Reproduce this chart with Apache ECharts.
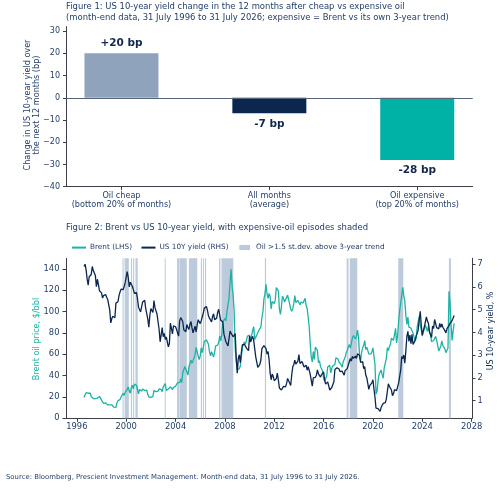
<!DOCTYPE html>
<html><head><meta charset="utf-8">
<script src="https://cdn.jsdelivr.net/npm/echarts@6/dist/echarts.min.js"></script>
<style>html,body{margin:0;padding:0;background:#fff}#c{width:500px;height:489px}</style>
</head><body><div id="c"></div>
<script>
// ---------- Figure 1 data ----------
const FIG1_CATEGORIES = ['Oil cheap\n(bottom 20% of months)', 'All months\n(average)', 'Oil expensive\n(top 20% of months)'];
const FIG1_VALUES = [20, -7, -28];
const FIG1_COLORS = ['#8fa3bc', '#0b2750', '#00b2a5'];
const FIG1_Y_TICKS = [-40, -30, -20, -10, 0, 10, 20, 30];

// ---------- Figure 2 data (month-end, from July 1996) ----------
const START_YEAR = 1996, START_MONTH = 7;
const FIG2_X_TICKS = [1996, 2000, 2004, 2008, 2012, 2016, 2020, 2024, 2028];
const FIG2_LEFT_TICKS = [0, 20, 40, 60, 80, 100, 120, 140];
const FIG2_RIGHT_TICKS = [1, 2, 3, 4, 5, 6, 7];

const BRENT = [
  19.5, 22.0, 24.0, 23.0, 23.5, 24.0,                                   // 1996 Jul-Dec
  23.5, 20.5, 19.5, 18.5, 19.5, 18.5, 19.5, 19.0, 20.0, 20.5, 19.0, 17.0, // 1997
  15.5, 14.0, 13.5, 14.5, 14.5, 12.5, 12.0, 12.5, 14.0, 12.5, 11.0, 10.5, // 1998
  11.5, 10.2, 14.5, 16.5, 15.5, 17.5, 20.0, 21.0, 23.5, 21.5, 24.5, 25.5, // 1999
  27.0, 29.5, 25.5, 23.5, 29.0, 31.0, 27.5, 32.0, 30.5, 31.0, 32.5, 23.0, // 2000
  27.0, 27.5, 25.5, 27.5, 28.5, 26.0, 25.5, 26.5, 22.5, 20.0, 18.5, 19.5, // 2001
  19.5, 20.5, 26.0, 25.5, 25.0, 24.5, 25.5, 27.5, 28.5, 27.0, 25.0, 29.5, // 2002
  31.0, 32.5, 26.0, 24.5, 27.5, 28.0, 29.5, 29.0, 27.0, 29.0, 29.5, 30.0, // 2003
  30.5, 33.5, 33.0, 33.5, 37.0, 33.5, 42.5, 41.5, 48.5, 49.5, 43.5, 40.5, // 2004
  48.0, 51.5, 54.5, 51.5, 50.5, 56.5, 59.5, 66.5, 62.5, 58.5, 55.0, 58.5, // 2005
  66.0, 61.5, 66.5, 72.0, 71.0, 73.5, 75.0, 69.5, 62.5, 58.5, 62.5, 61.0, // 2006
  57.5, 62.0, 68.0, 67.5, 68.5, 71.5, 77.0, 72.5, 79.0, 90.5, 89.0, 93.5, // 2007
  91.5, 100.0, 101.5, 112.5, 127.5, 140.0, 124.0, 115.5, 100.5, 65.5, 53.5, 45.5, // 2008
  45.5, 46.5, 49.0, 50.5, 66.0, 69.5, 71.5, 69.5, 69.0, 77.0, 78.5, 78.0, // 2009
  72.5, 78.0, 82.5, 86.0, 74.0, 75.0, 78.0, 76.5, 82.5, 83.5, 85.5, 94.5, // 2010
  100.0, 112.0, 117.0, 125.5, 116.5, 112.5, 117.0, 114.5, 102.5, 109.5, 110.5, 107.5, // 2011
  111.0, 122.5, 122.5, 119.5, 102.5, 97.5, 105.0, 114.5, 112.5, 109.0, 111.0, 111.0, // 2012
  115.5, 111.5, 110.0, 102.5, 100.5, 102.5, 107.5, 115.0, 108.5, 108.5, 110.5, 111.0, // 2013
  106.5, 109.0, 107.5, 108.0, 109.5, 112.5, 106.0, 103.0, 95.0, 85.9, 70.2, 57.3, // 2014
  52.9, 62.6, 55.1, 66.8, 65.6, 63.6, 52.2, 54.2, 48.4, 49.6, 44.6, 37.3, // 2015
  34.7, 36.0, 39.6, 48.1, 49.7, 49.7, 42.5, 47.0, 49.2, 48.3, 50.5, 56.8, // 2016
  55.7, 55.6, 52.8, 51.7, 50.3, 47.9, 52.7, 52.9, 57.5, 61.4, 63.6, 66.9, // 2017
  69.1, 65.8, 70.3, 75.2, 77.6, 79.4, 74.3, 77.4, 82.7, 75.5, 58.7, 53.8, // 2018
  61.9, 66.0, 68.4, 72.8, 64.5, 66.6, 65.2, 60.4, 60.8, 60.2, 62.4, 66.0, // 2019
  58.2, 50.5, 22.7, 25.3, 35.3, 41.2, 43.3, 45.3, 40.9, 37.5, 47.6, 51.8, // 2020
  55.9, 66.1, 63.5, 67.3, 69.3, 75.1, 76.3, 73.0, 78.5, 84.4, 70.6, 77.8, // 2021
  91.2, 100.9, 107.9, 109.3, 122.8, 114.8, 110.0, 96.5, 88.0, 94.8, 85.4, 85.9, // 2022
  84.5, 83.9, 79.8, 79.5, 72.7, 74.9, 85.6, 86.9, 95.3, 87.4, 82.8, 77.0, // 2023
  81.7, 83.6, 87.5, 87.9, 81.6, 86.4, 80.7, 78.8, 71.8, 73.2, 72.9, 74.6, // 2024
  76.8, 73.2, 74.7, 63.1, 63.9, 67.6, 72.5, 68.1, 67.0, 65.1, 61.5, 61.0, // 2025
  66.0, 119.0, 108.0, 88.0, 73.0, 82.0, 89.0                             // 2026 Jan-Jul
];

const UST10Y = [
  6.90, 7.00, 6.75, 6.35, 6.08, 6.45,                                   // 1996 Jul-Dec
  6.49, 6.55, 6.90, 6.72, 6.66, 6.50, 6.01, 6.34, 6.10, 5.83, 5.87, 5.74, // 1997
  5.51, 5.62, 5.65, 5.67, 5.55, 5.45, 5.49, 4.98, 4.42, 4.61, 4.71, 4.65, // 1998
  4.65, 5.29, 5.24, 5.35, 5.62, 5.78, 5.90, 5.97, 5.88, 6.02, 6.19, 6.44, // 1999
  6.67, 6.41, 6.00, 6.21, 6.27, 6.03, 6.03, 5.72, 5.80, 5.75, 5.47, 5.11, // 2000
  5.11, 4.90, 4.92, 5.34, 5.38, 5.41, 5.05, 4.83, 4.59, 4.23, 4.75, 5.05, // 2001
  5.03, 4.88, 5.40, 5.09, 5.04, 4.80, 4.46, 4.14, 3.59, 3.89, 4.21, 3.81, // 2002
  3.96, 3.69, 3.80, 3.84, 3.37, 3.51, 4.41, 4.46, 3.94, 4.29, 4.33, 4.25, // 2003
  4.13, 3.97, 3.84, 4.51, 4.65, 4.58, 4.48, 4.12, 4.12, 4.03, 4.35, 4.22, // 2004
  4.13, 4.36, 4.48, 4.20, 3.98, 3.92, 4.28, 4.02, 4.32, 4.56, 4.49, 4.39, // 2005
  4.52, 4.55, 4.85, 5.07, 5.12, 5.14, 4.98, 4.73, 4.63, 4.60, 4.46, 4.70, // 2006
  4.82, 4.56, 4.64, 4.63, 4.89, 5.02, 4.74, 4.53, 4.58, 4.47, 3.94, 4.02, // 2007
  3.59, 3.51, 3.41, 3.73, 4.06, 3.97, 3.95, 3.81, 3.82, 3.95, 2.92, 2.21, // 2008
  2.84, 3.02, 2.67, 3.12, 3.46, 3.53, 3.48, 3.40, 3.31, 3.38, 3.20, 3.84, // 2009
  3.58, 3.61, 3.83, 3.66, 3.29, 2.93, 2.91, 2.47, 2.51, 2.60, 2.79, 3.29, // 2010
  3.37, 3.42, 3.45, 3.29, 3.05, 3.16, 2.80, 2.22, 1.92, 2.17, 2.07, 1.88, // 2011
  1.80, 1.97, 2.21, 1.91, 1.56, 1.64, 1.47, 1.55, 1.63, 1.69, 1.61, 1.76, // 2012
  1.98, 1.88, 1.85, 1.67, 2.13, 2.49, 2.58, 2.78, 2.61, 2.55, 2.74, 3.03, // 2013
  2.64, 2.65, 2.72, 2.65, 2.48, 2.53, 2.56, 2.34, 2.49, 2.34, 2.16, 2.17, // 2014
  1.64, 2.00, 1.92, 2.03, 2.12, 2.35, 2.18, 2.22, 2.04, 2.14, 2.21, 2.27, // 2015
  1.92, 1.73, 1.77, 1.83, 1.85, 1.47, 1.45, 1.58, 1.59, 1.83, 2.37, 2.44, // 2016
  2.45, 2.39, 2.39, 2.28, 2.20, 2.30, 2.29, 2.12, 2.33, 2.38, 2.41, 2.40, // 2017
  2.71, 2.86, 2.74, 2.95, 2.86, 2.86, 2.96, 2.86, 3.06, 3.14, 2.99, 2.68, // 2018
  2.63, 2.72, 2.41, 2.50, 2.13, 2.01, 2.02, 1.50, 1.67, 1.69, 1.78, 1.92, // 2019
  1.51, 1.15, 0.67, 0.64, 0.65, 0.66, 0.53, 0.71, 0.68, 0.88, 0.84, 0.91, // 2020
  1.07, 1.40, 1.74, 1.63, 1.58, 1.47, 1.22, 1.31, 1.49, 1.55, 1.44, 1.51, // 2021
  1.78, 1.83, 2.34, 2.94, 2.85, 3.01, 2.65, 3.19, 3.83, 4.05, 3.61, 3.88, // 2022
  3.51, 3.92, 3.47, 3.42, 3.64, 3.84, 3.96, 4.11, 4.57, 4.93, 4.33, 3.88, // 2023
  3.91, 4.25, 4.20, 4.68, 4.50, 4.40, 4.03, 3.90, 3.78, 4.28, 4.17, 4.57, // 2024
  4.54, 4.21, 4.21, 4.16, 4.40, 4.23, 4.37, 4.23, 4.15, 4.08, 3.98, 4.17, // 2025
  4.24, 4.30, 4.40, 4.38, 4.52, 4.60, 4.75                               // 2026 Jan-Jul
];

// Expensive-oil episodes (decimal years, start/end)
const EPISODES = [
  [1999.70, 1999.79], [1999.87, 2000.21], [2000.38, 2000.48], [2000.56, 2000.65], [2000.75, 2000.93],
  [2003.12, 2003.20], [2004.12, 2004.28], [2004.31, 2004.91], [2005.08, 2005.76],
  [2006.05, 2006.14], [2006.22, 2006.30], [2006.38, 2006.48],
  [2007.52, 2007.64], [2007.72, 2008.68], [2011.24, 2011.34],
  [2017.87, 2018.02], [2018.12, 2018.73], [2022.05, 2022.46], [2026.16, 2026.32]
];

// ---------- styling ----------
const FONT = 'DejaVu Sans';
const TXT = '#26406a';
const AXIS = '#3a3f48';
const NAVY = '#0b2750';
const TEAL = '#1db3a4';
const SHADE = '#bccbdb';

const monthX = i => START_YEAR + (START_MONTH + i) / 12;
const brentData = BRENT.map((v, i) => [monthX(i), v]);
const yieldData = UST10Y.map((v, i) => [monthX(i), v]);
const minusFmt = v => (v < 0 ? '\u2212' + Math.abs(v) : String(v));

const chart = echarts.init(document.getElementById('c'), null, { renderer: 'canvas' });

const axisCommon = {
  axisLine: { show: true, lineStyle: { color: AXIS, width: 1 } },
  axisTick: { show: true, inside: false, length: 3.5, lineStyle: { color: AXIS, width: 1 } },
  splitLine: { show: false },
};

const rotText = (x, y, text, fill, size) => ({
  type: 'text', x: x, y: y, rotation: Math.PI / 2,
  style: { text: text, fill: fill, fontFamily: FONT, fontSize: size, lineHeight: size + 1.2,
    align: 'center', verticalAlign: 'middle', textAlign: 'center', textVerticalAlign: 'middle' }
});

chart.setOption({
  animation: false,
  textStyle: { fontFamily: FONT },
  grid: [
    { left: 66, top: 26.6, width: 406.7, height: 160.1, containLabel: false },
    { left: 66, top: 258.3, width: 406, height: 160, containLabel: false }
  ],
  xAxis: [
    Object.assign({}, axisCommon, {
      gridIndex: 0, type: 'value', min: -0.375, max: 2.375,
      axisLine: { show: true, onZero: false, lineStyle: { color: AXIS, width: 1 } },
      axisTick: { show: true, length: 3.5, customValues: [0, 1, 2], lineStyle: { color: AXIS } },
      axisLabel: { customValues: [0, 1, 2], formatter: v => FIG1_CATEGORIES[Math.round(v)] || '',
        color: TXT, fontSize: 8.1, fontFamily: FONT, margin: 4.5, lineHeight: 9 }
    }),
    Object.assign({}, axisCommon, {
      gridIndex: 1, type: 'value', min: 1995.12, max: 2028.03,
      axisLine: { show: true, onZero: false, lineStyle: { color: AXIS, width: 1 } },
      axisTick: { show: true, length: 3.5, customValues: FIG2_X_TICKS, lineStyle: { color: AXIS } },
      axisLabel: { customValues: FIG2_X_TICKS, formatter: v => String(Math.round(v)),
        color: TXT, fontSize: 8.4, fontFamily: FONT, margin: 5 }
    })
  ],
  yAxis: [
    Object.assign({}, axisCommon, {
      gridIndex: 0, type: 'value', min: -40, max: 32,
      axisLine: { show: true, onZero: false, lineStyle: { color: AXIS, width: 1 } },
      axisTick: { show: true, length: 3, customValues: FIG1_Y_TICKS, lineStyle: { color: AXIS } },
      axisLabel: { customValues: FIG1_Y_TICKS, formatter: minusFmt, color: TXT, fontSize: 8, fontFamily: FONT, margin: 6 }
    }),
    Object.assign({}, axisCommon, {
      gridIndex: 1, type: 'value', min: 0, max: 150, position: 'left',
      axisLine: { show: true, onZero: false, lineStyle: { color: AXIS, width: 1 } },
      axisTick: { show: true, length: 3.5, customValues: FIG2_LEFT_TICKS, lineStyle: { color: AXIS } },
      axisLabel: { customValues: FIG2_LEFT_TICKS, color: TXT, fontSize: 8.4, fontFamily: FONT, margin: 6.5 }
    }),
    Object.assign({}, axisCommon, {
      gridIndex: 1, type: 'value', min: 0.226, max: 7.26, position: 'right',
      axisLine: { show: true, onZero: false, lineStyle: { color: AXIS, width: 1 } },
      axisTick: { show: true, length: 3.5, customValues: FIG2_RIGHT_TICKS, lineStyle: { color: AXIS } },
      axisLabel: { customValues: FIG2_RIGHT_TICKS, color: TXT, fontSize: 8.2, fontFamily: FONT, margin: 5.5 }
    })
  ],
  series: [
    {
      type: 'bar', xAxisIndex: 0, yAxisIndex: 0, barWidth: 74,
      data: FIG1_VALUES.map((v, i) => ({
        value: [i, v],
        itemStyle: { color: FIG1_COLORS[i] },
        label: { position: v >= 0 ? 'top' : 'bottom' }
      })),
      label: {
        show: true, distance: 5, color: '#14284b', fontSize: 10.5, fontWeight: 'bold', fontFamily: FONT,
        formatter: p => (p.value[1] > 0 ? '+' : '') + p.value[1] + ' bp'
      },
      markLine: {
        silent: true, symbol: ['none', 'none'], label: { show: false },
        lineStyle: { color: '#56657a', width: 1, type: 'solid' },
        data: [{ yAxis: 0 }]
      },
      z: 2
    },
    {
      type: 'custom', xAxisIndex: 1, yAxisIndex: 1, z: 1,
      data: EPISODES,
      encode: { x: [0, 1] },
      renderItem: (params, api) => {
        const a = api.coord([api.value(0), 150]);
        const b = api.coord([api.value(1), 0]);
        return {
          type: 'rect',
          shape: { x: a[0], y: a[1], width: Math.max(b[0] - a[0], 1), height: b[1] - a[1] },
          style: { fill: SHADE }
        };
      }
    },
    {
      type: 'line', name: 'Brent (LHS)', xAxisIndex: 1, yAxisIndex: 1, data: brentData,
      showSymbol: false, symbol: 'none', lineStyle: { color: TEAL, width: 1.3 }, z: 3
    },
    {
      type: 'line', name: 'US 10Y yield (RHS)', xAxisIndex: 1, yAxisIndex: 2, data: yieldData,
      showSymbol: false, symbol: 'none', lineStyle: { color: NAVY, width: 1.3 }, z: 4
    }
  ],
  graphic: [
    { type: 'text', left: 66, top: 3, style: { text: 'Figure 1: US 10-year yield change in the 12 months after cheap vs expensive oil', fill: TXT, font: '8.45px "DejaVu Sans"' } },
    { type: 'text', left: 66, top: 14, style: { text: '(month-end data, 31 July 1996 to 31 July 2026; expensive = Brent vs its own 3-year trend)', fill: TXT, font: '8.45px "DejaVu Sans"' } },
    rotText(32.5, 105, 'Change in US 10-year yield over\nthe next 12 months (bp)', TXT, 8.1),
    { type: 'text', left: 66, top: 224, style: { text: 'Figure 2: Brent vs US 10-year yield, with expensive-oil episodes shaded', fill: TXT, font: '8.45px "DejaVu Sans"' } },
    // legend
    { type: 'line', shape: { x1: 72, y1: 247.6, x2: 86, y2: 247.6 }, style: { stroke: TEAL, lineWidth: 2 } },
    { type: 'text', x: 90, y: 247.6, style: { text: 'Brent (LHS)', fill: TXT, font: '7.3px "DejaVu Sans"', verticalAlign: 'middle', textVerticalAlign: 'middle' } },
    { type: 'line', shape: { x1: 141.5, y1: 247.6, x2: 155.5, y2: 247.6 }, style: { stroke: NAVY, lineWidth: 2 } },
    { type: 'text', x: 159.5, y: 247.6, style: { text: 'US 10Y yield (RHS)', fill: TXT, font: '7.3px "DejaVu Sans"', verticalAlign: 'middle', textVerticalAlign: 'middle' } },
    { type: 'rect', shape: { x: 239.3, y: 245, width: 10.7, height: 5 }, style: { fill: SHADE } },
    { type: 'text', x: 256, y: 247.6, style: { text: 'Oil >1.5 st.dev. above 3-year trend', fill: TXT, font: '7.3px "DejaVu Sans"', verticalAlign: 'middle', textVerticalAlign: 'middle' } },
    // axis titles
    rotText(37, 339, 'Brent oil price, $/bbl', TEAL, 8.1),
    rotText(490.5, 331, 'US 10-year yield, %', NAVY, 8),
    // source
    { type: 'text', left: 6, top: 474, style: { text: 'Source: Bloomberg, Prescient Investment Management. Month-end data, 31 July 1996 to 31 July 2026.', fill: TXT, font: '6.9px "DejaVu Sans"' } }
  ]
});
</script>
</body></html>
